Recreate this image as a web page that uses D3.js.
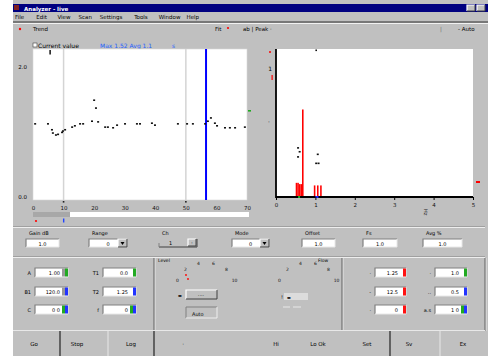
<!DOCTYPE html>
<html>
<head>
<meta charset="utf-8">
<script src="https://cdn.jsdelivr.net/npm/d3@7"></script>
<style>
  body { margin: 0; background: #fff; }
  svg { display: block; font-family: "DejaVu Sans", sans-serif; }
</style>
</head>
<body>
<div id="chart"></div>
<script>
// trend plot data (left panel)
const trendTimes = [0.7, 4.9, 6.2, 6.5, 7.5, 8.2, 9.5, 9.8, 10.5, 12.8, 13.7, 15.4, 16.4, 19.3, 20.0, 20.6, 21.3, 23.6, 24.5, 26.2, 27.5, 30.1, 34.0, 35.0, 38.9, 39.9, 47.4, 50.4, 52.3, 56.3, 57.2, 58.2, 59.5, 60.2, 62.8, 64.4, 66.1, 69.3];
const trendValues = [1.16, 1.16, 1.07, 1.02, 0.99, 1.00, 1.03, 1.05, 1.07, 1.11, 1.13, 1.16, 1.16, 1.20, 1.52, 1.40, 1.19, 1.11, 1.11, 1.10, 1.14, 1.16, 1.16, 1.16, 1.17, 1.14, 1.16, 1.16, 1.16, 1.16, 1.20, 1.25, 1.17, 1.13, 1.10, 1.10, 1.10, 1.11];
const trendTicks = [0, 10, 20, 30, 40, 50, 60, 70];
const trendCursors = [10, 50];
const trendMarker = 56.6;

// spectrum data (right panel)
const specBins = [0.50, 0.54, 0.58, 0.62, 0.66, 0.96, 1.04, 1.12];
const specHeights = [0.11, 0.11, 0.10, 0.10, 0.68, 0.09, 0.09, 0.09];
const specPeakX = [0.56, 0.60, 0.56, 1.06, 1.02, 1.08];
const specPeakY = [0.38, 0.35, 0.31, 0.33, 0.26, 0.26];
const specTicks = [0, 1, 2, 3, 4, 5];

// UI texts
const menuItems = ["File", "Edit", "View", "Scan", "Settings", "Tools", "Window", "Help"];
const controlLabels = ["Gain dB", "Range", "Ch", "Mode", "Offset", "Fs", "Avg %"];
const buttonLabels = ["Go", "Stop", "Log", "·", "Hi", "Lo  Ok", "Set", "Sv", "Ex"];
const gaugeTicks = ["0", "2", "4", "6", "8", "10"];

const W = 488, H = 356;
const GRAY = "#c0c0c0", DARK = "#808080", LIGHT = "#ffffff";
let svg = null;

renderWindow();

function renderWindow() {
  svg = d3.select("#chart").append("svg").attr("width", W).attr("height", H);
  svg.append("rect").attr("x", 13).attr("y", 0).attr("width", W - 13).attr("height", H).attr("fill", GRAY);
  appendTitleBar();
  appendToolbar();
  appendTrendPlot();
  appendSpectrumPlot();
  appendControlsRow();
  appendBottomPanels();
  appendButtonBar();
}

function txt(x, y, s, opts) {
  opts = opts || {};
  return svg.append("text").attr("x", x).attr("y", y)
    .attr("font-size", opts.size || 6)
    .attr("fill", opts.fill || "#000")
    .attr("font-weight", opts.weight || "normal")
    .attr("text-anchor", opts.anchor || "start")
    .text(s);
}

function bevel(x, y, w, h, sunken) {
  let g = svg.append("g");
  g.append("rect").attr("x", x).attr("y", y).attr("width", w).attr("height", h)
    .attr("fill", sunken ? "#fff" : GRAY);
  g.append("path").attr("d", `M${x},${y + h}V${y}H${x + w}`).attr("fill", "none")
    .attr("stroke", sunken ? DARK : LIGHT).attr("stroke-width", 1.2);
  g.append("path").attr("d", `M${x + w},${y}V${y + h}H${x}`).attr("fill", "none")
    .attr("stroke", sunken ? "#e8e8e8" : "#404040").attr("stroke-width", 1);
  return g;
}

function appendTitleBar() {
  svg.append("rect").attr("x", 13).attr("y", 4).attr("width", W - 13).attr("height", 8).attr("fill", "#000080");
  svg.append("rect").attr("x", 14).attr("y", 5).attr("width", 5).attr("height", 5).attr("fill", "#802020");
  txt(24, 10.5, "Analyzer - live", {fill: "#fff", size: 5.5, weight: "bold"});
  bevel(467, 5, 8, 6, false);
  bevel(477, 5, 8, 6, false);

  let mx = 15;
  menuItems.forEach(function(m) {
    txt(mx, 19, m, {size: 5.5});
    mx += m.length * 3.3 + 8;
  });
  svg.append("line").attr("x1", 13).attr("x2", W).attr("y1", 22).attr("y2", 22).attr("stroke", "#606060").attr("stroke-width", 1.5);
  svg.append("line").attr("x1", 13).attr("x2", W).attr("y1", 23.5).attr("y2", 23.5).attr("stroke", "#fff").attr("stroke-width", 0.8);
}

function appendToolbar() {
  svg.append("circle").attr("cx", 20).attr("cy", 29).attr("r", 1.2).attr("fill", "red");
  txt(33, 31, "Trend", {size: 5.5});
  txt(215, 31, "Fit", {size: 5.5});
  svg.append("circle").attr("cx", 228).attr("cy", 28).attr("r", 1.1).attr("fill", "red");
  txt(243, 31, "ab  |  Peak  ·", {size: 5.5});
  txt(440, 31, "|", {size: 5.5, fill: "#666"});
  txt(458, 31, "- Auto", {size: 5.5});

  // trend header
  svg.append("rect").attr("x", 33).attr("y", 43).attr("width", 4).attr("height", 4).attr("fill", "#fff").attr("stroke", "#404040").attr("stroke-width", 0.6);
  txt(38, 47.5, "Current value", {size: 6});
  txt(100, 47.5, "Max 1.52  Avg 1.1", {size: 6, fill: "#1f5fff"});
  txt(172, 47.5, "s", {size: 6, fill: "#1f5fff"});
}

function appendTrendPlot() {
  let left = 33, right = 247, top = 49, bottom = 200;
  let x = d3.scaleLinear().domain([0, 70]).range([left, right]);
  let y = d3.scaleLinear().domain([0, 2.3]).range([bottom, top]);

  svg.append("rect").attr("x", left).attr("y", top).attr("width", right - left).attr("height", bottom - top)
    .attr("fill", "#fff").attr("stroke", "#d8d8d8").attr("stroke-width", 0.6);

  svg.selectAll(".cursor").data(trendCursors).enter().append("line")
    .attr("class", "cursor")
    .attr("x1", d => x(d)).attr("x2", d => x(d))
    .attr("y1", top).attr("y2", bottom)
    .attr("stroke", "#d4d4d4").attr("stroke-width", 1.5);

  svg.selectAll(".cursorTick").data(trendCursors).enter().append("rect")
    .attr("x", d => x(d) - 0.8).attr("y", bottom + 1).attr("width", 1.6).attr("height", 1.6).attr("fill", "#222");

  svg.append("line")
    .attr("x1", x(trendMarker)).attr("x2", x(trendMarker))
    .attr("y1", top).attr("y2", bottom)
    .attr("stroke", "#0000ff").attr("stroke-width", 2);

  // top marker
  svg.append("rect").attr("x", x(5.6) - 0.8).attr("y", 50).attr("width", 1.6).attr("height", 4.5).attr("fill", "#222");

  svg.selectAll(".pt").data(trendTimes).enter().append("rect")
    .attr("class", "pt")
    .attr("x", (d) => x(d) - 1)
    .attr("y", (d, i) => y(trendValues[i]) - 0.8)
    .attr("width", 2).attr("height", 1.6)
    .attr("fill", "#111");

  // y labels
  txt(27, 69, "2.0", {size: 5.5, anchor: "end"});
  txt(27, 199, "0.0", {size: 5.5, anchor: "end"});

  // x labels
  let xAxis = svg.append("g").attr("transform", `translate(0, ${bottom})`)
    .call(d3.axisBottom(x).tickValues(trendTicks).tickSize(0).tickPadding(6).tickFormat(d3.format("d")));
  xAxis.select(".domain").remove();
  xAxis.selectAll("text").attr("font-size", 5.5).attr("font-family", "DejaVu Sans").attr("fill", "#111");

  // green right marker
  svg.append("rect").attr("x", 248).attr("y", 110).attr("width", 3).attr("height", 1.6).attr("fill", "#22aa22");

  // scrollbar
  svg.append("rect").attr("x", 33).attr("y", 212).attr("width", 216).attr("height", 5).attr("fill", "#fff");
  svg.append("rect").attr("x", 33).attr("y", 212).attr("width", 37).attr("height", 5).attr("fill", "#a8a8a8");
  svg.append("circle").attr("cx", 36).attr("cy", 221).attr("r", 1.1).attr("fill", "red");
  svg.append("rect").attr("x", x(10) - 0.6).attr("y", 218.5).attr("width", 1.4).attr("height", 4).attr("fill", "#2244ff");
}

function appendSpectrumPlot() {
  let left = 276, right = 473, top = 49, bottom = 197;
  let x = d3.scaleLinear().domain([0, 5]).range([left, right]);
  let y = d3.scaleLinear().domain([0, 1.15]).range([bottom, top]);
  let bw = x(0.04) - x(0);

  svg.append("rect").attr("x", left).attr("y", top).attr("width", right - left).attr("height", bottom - top).attr("fill", "#fff");

  svg.selectAll(".bar").data(specBins).enter().append("rect")
    .attr("class", "bar")
    .attr("x", d => x(d))
    .attr("y", (d, i) => y(specHeights[i]))
    .attr("width", bw)
    .attr("height", (d, i) => bottom - y(specHeights[i]))
    .attr("fill", "#ff0000");

  svg.selectAll(".peak").data(specPeakX).enter().append("rect")
    .attr("class", "peak")
    .attr("x", d => x(d) - 1)
    .attr("y", (d, i) => y(specPeakY[i]) - 1)
    .attr("width", 2).attr("height", 1.6).attr("fill", "#111");

  // top marker
  svg.append("rect").attr("x", x(1.02) - 0.8).attr("y", 49.5).attr("width", 1.6).attr("height", 1.6).attr("fill", "#111");

  // axes
  svg.append("line").attr("x1", left).attr("x2", left).attr("y1", top).attr("y2", bottom + 1).attr("stroke", "#000").attr("stroke-width", 1.8);
  svg.append("line").attr("x1", left).attr("x2", right).attr("y1", bottom).attr("y2", bottom).attr("stroke", "#000").attr("stroke-width", 1.8);
  svg.append("rect").attr("x", x(0.56)).attr("y", bottom - 1).attr("width", 2).attr("height", 2).attr("fill", "#22aa22");
  svg.append("rect").attr("x", x(1.0)).attr("y", bottom - 1).attr("width", 3).attr("height", 2).attr("fill", "#2222ff");

  let xAxis = svg.append("g").attr("transform", `translate(0, ${bottom})`)
    .call(d3.axisBottom(x).tickValues(specTicks).tickSize(3).tickPadding(3).tickFormat(d3.format("d")));
  xAxis.select(".domain").remove();
  xAxis.selectAll("line").attr("stroke", "#000");
  xAxis.selectAll("text").attr("font-size", 5.5).attr("font-family", "DejaVu Sans").attr("fill", "#111");

  txt(272, 71, "1", {size: 6, anchor: "end"});
  txt(270, 124, "·", {size: 6, anchor: "end"});
  svg.append("circle").attr("cx", 270).attr("cy", 52).attr("r", 1).attr("fill", "red");
  svg.append("rect").attr("x", 271.5).attr("y", 75).attr("width", 1.2).attr("height", 5).attr("fill", "red");
  svg.append("rect").attr("x", 476).attr("y", 181).attr("width", 4).attr("height", 2).attr("fill", "red");
  svg.append("text").attr("transform", "translate(424, 209) rotate(90)").attr("font-size", 5).attr("fill", "#222").text("Hz");
}

function appendControlsRow() {
  svg.append("line").attr("x1", 13).attr("x2", 485).attr("y1", 226.5).attr("y2", 226.5).attr("stroke", "#a0a0a0");
  svg.append("line").attr("x1", 13).attr("x2", 485).attr("y1", 227.5).attr("y2", 227.5).attr("stroke", "#eee");

  let fields = [[26, 33, 0], [89, 38, 1], [159, 38, 2], [232, 37, 1], [302, 33, 0], [363, 34, 0], [423, 39, 0]];
  fields.forEach(function(f, i) {
    let fx = f[0], fw = f[1], kind = f[2];
    txt(fx + 3, 235, controlLabels[i], {size: 5});
    if (kind === 2) {
      svg.append("path").attr("d", `M${fx},${247}H${fx + fw}V${239}`).attr("fill", "none").attr("stroke", "#404040");
      svg.append("line").attr("x1", fx).attr("x2", fx).attr("y1", 243).attr("y2", 247).attr("stroke", DARK);
      txt(fx + 10, 245, "1", {size: 5});
      bevel(fx + fw - 9, 239, 8, 7, false);
      txt(fx + fw - 5, 245, "·", {size: 6, anchor: "middle"});
    } else {
      bevel(fx, 239, fw, 8, true);
      txt(fx + fw / 2, 245.5, kind === 1 ? "0" : "1.0", {size: 5, anchor: "middle"});
      if (kind === 1) {
        bevel(fx + fw - 9, 239, 9, 8, false);
        svg.append("path").attr("d", `M${fx + fw - 6.5},${242}h4l-2,3z`).attr("fill", "#000");
      }
    }
  });
}

function colorBox(x, y, w, label, value, colors) {
  bevel(x, y, w, 9, true);
  txt(x + w - 8, y + 7, value, {size: 5, anchor: "end"});
  let cw = 3;
  colors.forEach(function(c, k) {
    svg.append("rect").attr("x", x + w - cw * (colors.length - k)).attr("y", y + 0.5).attr("width", cw).attr("height", 8).attr("fill", c);
  });
  txt(x - 4, y + 7, label, {size: 5, anchor: "end"});
}

function appendBottomPanels() {
  svg.append("line").attr("x1", 13).attr("x2", 485).attr("y1", 256.5).attr("y2", 256.5).attr("stroke", "#a0a0a0");
  svg.append("line").attr("x1", 13).attr("x2", 485).attr("y1", 257.5).attr("y2", 257.5).attr("stroke", "#eee");
  [154, 342, 485].forEach(function(vx) {
    svg.append("line").attr("x1", vx).attr("x2", vx).attr("y1", 258).attr("y2", 331).attr("stroke", "#707070").attr("stroke-width", 1.2);
    svg.append("line").attr("x1", vx + 1.2).attr("x2", vx + 1.2).attr("y1", 258).attr("y2", 331).attr("stroke", "#eee").attr("stroke-width", 0.6);
  });

  let rows = [268, 287, 305];
  let G = "#22aa22", B = "#2233ff", M = "#999";
  colorBox(35, rows[0], 33, "A", "1.00", [M, G]);
  colorBox(35, rows[1], 33, "B1", "120.0", [M, B]);
  colorBox(35, rows[2], 33, "C", "0  0", [G, B]);
  colorBox(103, rows[0], 33, "T1", "0.0", [G]);
  colorBox(103, rows[1], 33, "T2", "1.25", [B]);
  colorBox(103, rows[2], 33, "f", "0", [G, B]);

  colorBox(375, rows[0], 31, "·", "1.25", ["#ff1111"]);
  colorBox(375, rows[1], 31, "-", "12.5", ["#ff1111"]);
  colorBox(375, rows[2], 31, "·", "0", ["#ff1111"]);
  colorBox(435, rows[0], 32, "·", "1.0", [G]);
  colorBox(435, rows[1], 32, "..", "0.5", [B]);
  colorBox(435, rows[2], 32, "a.s", "1 0", [G, B]);

  appendGauge(206, 290, 30, "#111");
  appendGauge(308, 290, 30, "#111");
  svg.append("circle").attr("cx", 186).attr("cy", 275).attr("r", 0.9).attr("fill", "red");
  svg.append("circle").attr("cx", 188).attr("cy", 279).attr("r", 0.9).attr("fill", "red");
  txt(158, 262, "Level", {size: 4.5});
  txt(318, 262, "Flow", {size: 4.5});

  txt(178, 297, "▬", {size: 4});
  bevel(186, 290, 31, 9, false);
  txt(201, 296.5, "····", {size: 5, anchor: "middle"});
  svg.append("path").attr("d", "M186,318V307H217").attr("fill", "none").attr("stroke", DARK);
  svg.append("path").attr("d", "M186,318H217V307").attr("fill", "none").attr("stroke", "#eee");
  txt(192, 316, "Auto", {size: 5});

  txt(281, 299, "!", {size: 5});
  svg.append("rect").attr("x", 284).attr("y", 293).attr("width", 24).attr("height", 7).attr("fill", "#dcdcdc");
  txt(287, 298.5, "▬ ", {size: 4});
  svg.append("path").attr("d", "M283,307H290M293,307H301").attr("stroke", "#e8e8e8");
}

function appendGauge(cx, cy, r, color) {
  let angle = d3.scaleLinear().domain([0, gaugeTicks.length - 1]).range([-72, 72]);
  gaugeTicks.forEach(function(t, i) {
    let a = angle(i) * Math.PI / 180;
    txt(cx + r * Math.sin(a), cy - r * Math.cos(a) * 0.85, t, {size: 4.5, anchor: "middle", fill: color});
  });
}

function appendButtonBar() {
  svg.append("line").attr("x1", 13).attr("x2", 485).attr("y1", 330.5).attr("y2", 330.5).attr("stroke", "#e8e8e8").attr("stroke-width", 1);
  [60, 154, 390].forEach(function(vx) {
    svg.append("line").attr("x1", vx).attr("x2", vx).attr("y1", 331).attr("y2", H).attr("stroke", "#222").attr("stroke-width", 1.2);
  });
  [108, 440].forEach(function(vx) {
    svg.append("line").attr("x1", vx).attr("x2", vx).attr("y1", 331).attr("y2", H).attr("stroke", "#e8e8e8").attr("stroke-width", 1);
  });
  let bx = [34, 77, 131, 183, 276, 318, 367, 409, 463];
  buttonLabels.forEach(function(b, i) {
    txt(bx[i], 346, b, {size: 5.5, anchor: "middle"});
  });
}
</script>
</body>
</html>
